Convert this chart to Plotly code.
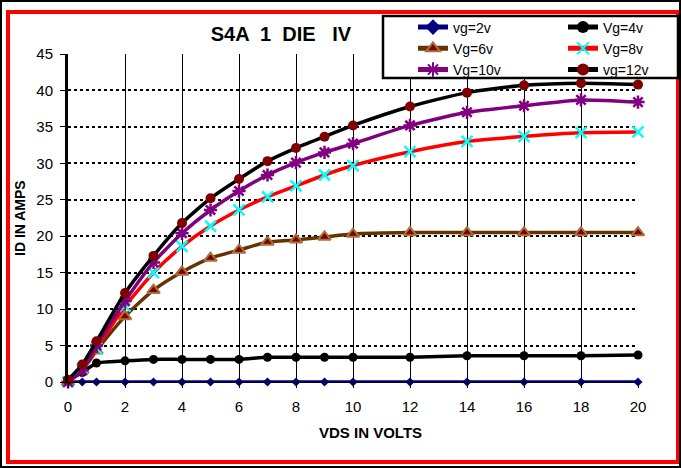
import plotly.graph_objects as go

vds = [0, 0.5, 1, 2, 3, 4, 5, 6, 7, 8, 9, 10, 12, 14, 16, 18, 20]
id_vg2 = [0, 0, 0, 0, 0, 0, 0, 0, 0, 0, 0, 0, 0, 0, 0, 0, 0]
id_vg4 = [0.2, 1.3, 2.6, 2.9, 3.1, 3.1, 3.1, 3.1, 3.4, 3.4, 3.4, 3.4, 3.4, 3.6, 3.6, 3.6, 3.7]
id_vg6 = [0, 1.6, 4.3, 9.0, 12.6, 15.1, 17.0, 18.1, 19.2, 19.5, 19.9, 20.3, 20.5, 20.5, 20.5, 20.5, 20.5]
id_vg8 = [0, 1.8, 4.6, 10.4, 15.0, 18.6, 21.4, 23.6, 25.4, 26.9, 28.4, 29.7, 31.6, 33.0, 33.7, 34.2, 34.3]
id_vg10 = [0, 1.6, 5.0, 11.1, 16.4, 20.4, 23.6, 26.2, 28.4, 30.1, 31.5, 32.7, 35.2, 37.0, 37.9, 38.7, 38.4]
id_vg12 = [0.3, 2.4, 5.6, 12.2, 17.3, 21.8, 25.2, 27.85, 30.3, 32.1, 33.65, 35.2, 37.8, 39.7, 40.7, 41.0, 40.8]

names = ["vg=2v", "Vg=4v", "Vg=6v", "Vg=8v", "Vg=10v", "vg=12v"]
series = [id_vg2, id_vg4, id_vg6, id_vg8, id_vg10, id_vg12]
legend_col = ["legend", "legend2", "legend", "legend2", "legend", "legend2"]

styles = [
    dict(line=dict(color="#000080", width=3.5),
         marker=dict(symbol="diamond", size=7, color="#000080")),
    dict(line=dict(color="#000000", width=3.5),
         marker=dict(symbol="circle", size=9, color="#000000")),
    dict(line=dict(color="#663300", width=3.5),
         marker=dict(symbol="triangle-up", size=11, color="#800000",
                     line=dict(color="#A8703C", width=2))),
    dict(line=dict(color="#FF0000", width=3.5),
         marker=dict(symbol="x-thin", size=11, color="#00FFFF",
                     line=dict(color="#00FFFF", width=2.5))),
    dict(line=dict(color="#800080", width=3.5),
         marker=dict(symbol="asterisk", size=11, color="#800080",
                     line=dict(color="#800080", width=2.5))),
    dict(line=dict(color="#000000", width=3.5),
         marker=dict(symbol="circle", size=10, color="#800000")),
]

fig = go.Figure()
for name, ys, st, lg in zip(names, series, styles, legend_col):
    fig.add_trace(go.Scatter(
        x=vds, y=ys, name=name, mode="lines+markers",
        line=dict(shape="spline", smoothing=0.6, **st["line"]),
        marker=st["marker"], cliponaxis=False, legend=lg,
    ))

L, R, T, B = 68, 43, 54, 86
W, H = 681, 468
pw, ph = W - L - R, H - T - B


def pu(px):
    return (px - L) / pw


def pv(py):
    return (H - B - py) / ph


font_family = "Liberation Sans, Arial, sans-serif"
leg_font = dict(size=14, family=font_family, color="black")

fig.update_layout(
    width=W, height=H,
    margin=dict(l=L, r=R, t=T, b=B),
    paper_bgcolor="white", plot_bgcolor="white",
    font=dict(family=font_family, color="black"),
    title=dict(text="S4A  1  DIE   IV", x=pu(281), xref="paper", xanchor="center",
               y=1 - 34 / H, yref="container", yanchor="middle",
               font=dict(size=20, family=font_family, color="black", weight="bold")),
    showlegend=True,
    legend=dict(
        x=pu(413), y=pv(11.5), xanchor="left", yanchor="top",
        xref="paper", yref="paper", bgcolor="rgba(0,0,0,0)", borderwidth=0,
        font=leg_font, tracegroupgap=0, itemsizing="constant",
    ),
    legend2=dict(
        x=pu(563), y=pv(11.5), xanchor="left", yanchor="top",
        xref="paper", yref="paper", bgcolor="rgba(0,0,0,0)", borderwidth=0,
        font=leg_font, tracegroupgap=0, itemsizing="constant",
    ),
    xaxis=dict(
        range=[0, 20], tickmode="linear", tick0=0, dtick=2,
        showgrid=True, gridcolor="black", gridwidth=1,
        zeroline=False, showline=True, linecolor="black", linewidth=1,
        ticks="outside", ticklen=5, tickcolor="black",
        tickfont=dict(size=15, family=font_family, color="black"),
        ticklabelstandoff=6,
    ),
    yaxis=dict(
        range=[0, 45], tickmode="linear", tick0=0, dtick=5,
        showgrid=True, gridcolor="black", gridwidth=1.5, griddash="dot",
        zeroline=False, showline=True, linecolor="black", linewidth=3,
        ticks="outside", ticklen=5, tickcolor="black",
        tickfont=dict(size=15, family=font_family, color="black"),
        ticklabelstandoff=4,
    ),
    annotations=[
        dict(text="<b>ID IN AMPS</b>", textangle=-90, x=pu(20), y=pv(218),
             xref="paper", yref="paper", showarrow=False,
             xanchor="center", yanchor="middle",
             font=dict(size=14, family=font_family, color="black")),
        dict(text="<b>VDS IN VOLTS</b>", x=pu(370), y=pv(432),
             xref="paper", yref="paper", showarrow=False,
             xanchor="center", yanchor="middle",
             font=dict(size=15, family=font_family, color="black")),
    ],
    shapes=[
        dict(type="rect", xref="paper", yref="paper",
             x0=pu(8), x1=pu(678), y0=pv(462), y1=pv(12),
             line=dict(color="#FF0000", width=4), fillcolor="rgba(0,0,0,0)",
             layer="above"),
        dict(type="rect", xref="paper", yref="paper",
             x0=pu(1), x1=pu(680), y0=pv(467), y1=pv(1),
             line=dict(color="black", width=2), fillcolor="rgba(0,0,0,0)",
             layer="above"),
        dict(type="rect", xref="paper", yref="paper",
             x0=pu(383), x1=pu(678), y0=pv(78), y1=pv(16),
             line=dict(color="black", width=2.5), fillcolor="white",
             layer="above"),
    ],
)

fig.write_html("out.html", config={"displayModeBar": False},
               post_script="document.body.style.margin='0px';")
